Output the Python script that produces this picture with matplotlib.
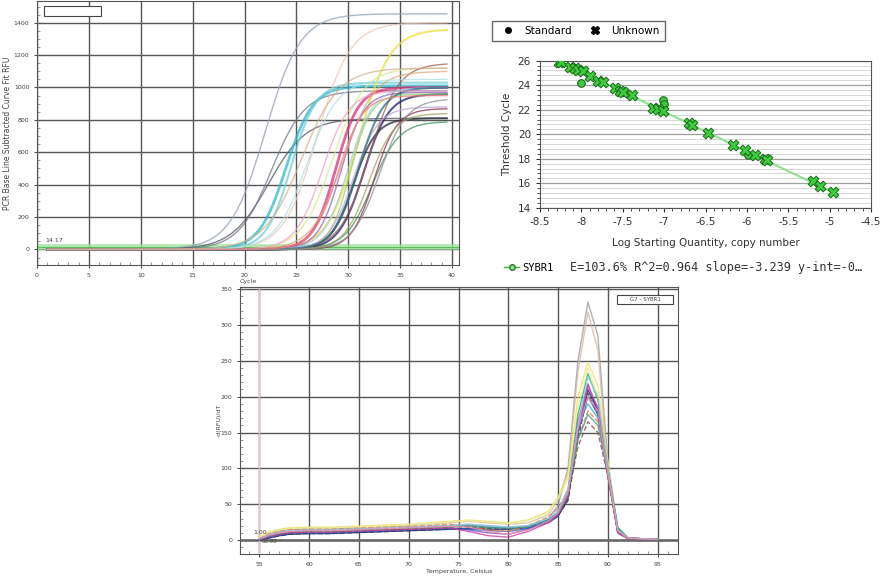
import numpy as np
import matplotlib
matplotlib.use("Agg")
import matplotlib.pyplot as plt
from matplotlib.lines import Line2D
from matplotlib.patches import Rectangle
from matplotlib.ticker import MultipleLocator

plt.rcParams['axes.unicode_minus'] = False

# ---------------- amplification (curve fit parameters) ----------------
amp_mid = [22.0, 22.3, 22.6, 24.0, 24.5, 27.0, 31.0, 28.5, 28.8, 29.3, 31.5, 30.5, 32.3,
           30.2, 32.0, 29.5, 30.5, 30.0, 32.5, 32.0, 31.0, 27.5, 33.0, 26.0, 29.0, 25.5]
amp_plateau = [1455, 810, 980, 1010, 1030, 1400, 1360, 1120, 1000, 970, 960, 810, 790,
               960, 1150, 1100, 880, 1000, 870, 840, 1000, 980, 930, 1050, 950, 1120]
amp_spread = [1.7, 1.8, 1.6, 1.3, 1.2, 1.6, 1.5, 1.5, 1.1, 1.1, 1.2, 1.1, 1.3,
              1.0, 1.4, 1.5, 1.2, 1.2, 1.1, 1.2, 1.2, 1.3, 1.3, 1.5, 1.2, 1.8]
amp_colors = ['#8fa0b4', '#555566', '#707888', '#30b8cc', '#70d0d8', '#e8c8b8', '#ece040',
              '#d8e890', '#d8307a', '#9060c0', '#202068', '#303040', '#409060', '#90d070',
              '#a06050', '#e0a878', '#c0a0d8', '#a0c8e8', '#8a3050', '#a0a060', '#307080',
              '#f0a0c0', '#909090', '#b0e0e0', '#f08080', '#d0b090']
amp_width = [1, 1, 1, 2, 1.5, 1, 1.5, 1, 2, 1, 1.5, 1.5, 1, 1, 1, 1, 1, 1, 1, 1, 1.5,
             1, 1, 1, 1, 1]
amp_threshold = 14.17

# ---------------- standard curve ----------------
unk_x = [-8.266, -8.25, -8.137, -8.077, -8.037, -7.976, -7.896, -7.795, -7.735, -7.594,
         -7.533, -7.493, -7.392, -7.130, -7.070, -7.010, -6.695, -6.667, -6.466, -6.164,
         -6.023, -5.902, -5.781, -5.761, -5.205, -5.116, -4.955]
unk_y = [25.92, 25.92, 25.45, 25.37, 25.26, 25.12, 24.77, 24.36, 24.30, 23.81,
         23.53, 23.48, 23.18, 22.16, 22.03, 21.89, 20.93, 20.79, 20.11, 19.15,
         18.74, 18.33, 17.97, 17.86, 16.14, 15.81, 15.32]
std_x = [-8.005, -7.010, -6.998, -5.990, -8.10, -7.50]
std_y = [24.22, 22.77, 22.49, 18.27, 25.30, 23.45]
fit_slope = -3.239
fit_intercept = -0.83
fit_range = [-8.27, -4.955]

# ---------------- melt curve ----------------
melt_temp = [55, 56, 57, 58, 60, 62, 64, 66, 68, 70, 72, 74, 76, 78, 80, 82, 84, 85, 86,
             87, 88, 89, 90, 91, 92, 93, 95]
melt_curves = [
    [2, 8, 12, 14, 15, 15, 16, 16, 17, 18, 19, 20, 22, 20, 18, 20, 30, 48, 100, 250, 332, 285, 110, 15, 3, 2, 1],
    [3, 10, 14, 16, 17, 17, 18, 18, 19, 20, 22, 24, 26, 24, 22, 24, 35, 55, 95, 235, 318, 265, 100, 12, 3, 2, 1],
    [4, 12, 15, 17, 18, 18, 19, 20, 21, 22, 24, 26, 28, 26, 24, 28, 40, 60, 90, 200, 248, 215, 110, 15, 3, 2, 1],
    [3, 11, 14, 16, 17, 17, 18, 19, 20, 21, 23, 25, 27, 25, 23, 27, 38, 58, 85, 185, 240, 200, 105, 14, 3, 2, 1],
    [1, 5, 8, 10, 11, 11, 12, 13, 14, 15, 16, 18, 20, 18, 16, 18, 28, 38, 70, 175, 232, 195, 100, 18, 3, 2, 1],
    [0, 4, 7, 9, 10, 10, 11, 12, 13, 14, 15, 16, 14, 10, 8, 15, 25, 36, 65, 165, 218, 180, 90, 12, 3, 2, 1],
    [0, 3, 6, 8, 9, 9, 10, 11, 12, 13, 14, 15, 16, 15, 15, 17, 24, 33, 58, 150, 210, 180, 95, 10, 3, 2, 1],
    [0, 3, 6, 8, 9, 9, 10, 11, 12, 13, 14, 15, 17, 16, 16, 18, 26, 34, 55, 140, 205, 175, 90, 10, 2, 2, 1],
    [1, 6, 9, 11, 12, 12, 13, 14, 15, 16, 17, 18, 19, 17, 16, 18, 27, 38, 66, 160, 190, 170, 95, 14, 3, 2, 1],
    [0, 4, 7, 9, 10, 10, 11, 12, 13, 14, 15, 16, 15, 13, 12, 16, 25, 35, 62, 150, 200, 175, 100, 15, 3, 2, 1],
    [0, 5, 8, 10, 11, 11, 12, 13, 14, 15, 16, 17, 12, 6, 4, 12, 24, 36, 62, 155, 215, 185, 90, 10, 2, 2, 1],
    [2, 9, 12, 14, 15, 15, 16, 17, 18, 19, 20, 22, 20, 14, 12, 20, 32, 44, 70, 140, 180, 165, 100, 14, 3, 2, 1],
    [1, 6, 9, 11, 12, 12, 13, 14, 15, 16, 17, 18, 19, 17, 16, 19, 28, 38, 62, 130, 165, 150, 90, 12, 3, 2, 1],
    [1, 6, 10, 12, 13, 13, 14, 15, 16, 17, 18, 19, 20, 18, 17, 19, 28, 38, 65, 140, 175, 160, 95, 16, 3, 2, 1],
    [2, 8, 11, 13, 14, 14, 15, 16, 17, 18, 19, 20, 22, 20, 18, 20, 30, 42, 70, 160, 228, 200, 100, 14, 3, 2, 1],
    [2, 7, 10, 12, 13, 13, 14, 15, 16, 17, 18, 19, 18, 12, 8, 14, 26, 38, 66, 155, 200, 180, 92, 12, 3, 2, 1],
]
melt_colors = ['#9a9aa8', '#d8b89a', '#eee060', '#e6f0a0', '#30b050', '#8050c0', '#1a2a80',
               '#303030', '#40a8d8', '#3060c0', '#d040a0', '#e08030', '#905030', '#40a0a0',
               '#90c8f0', '#f090b0']
melt_styles = ['-', '-', '-', '-', '-', '-', '-', '--', '-', '-', '-', '--', '--', '-', '-', '-']

fig = plt.figure(figsize=(8.83, 5.8), dpi=100)

# ===================== panel 1: amplification =====================
ax1 = fig.add_axes([37 / 883, 1 - 265 / 580, 422 / 883, 264 / 580])
cyc = np.arange(1, 39.6, 0.25)
ax1.axhline(amp_threshold, color='#9be39b', lw=4, alpha=0.8, zorder=2)
ax1.axhline(amp_threshold, color='#50b050', lw=0.6, zorder=2)
for c, p, s, col, w in zip(amp_mid, amp_plateau, amp_spread, amp_colors, amp_width):
    y = p / (1 + np.exp(-(cyc - c) / s))
    ax1.plot(cyc, y, color=col, lw=w, alpha=0.75, zorder=3)
ax1.set_xlim(0, 40.67)
ax1.set_ylim(-96, 1534)
ax1.set_xticks(range(0, 41, 5))
ax1.set_yticks(range(0, 1401, 200))
ax1.xaxis.set_minor_locator(MultipleLocator(1))
ax1.yaxis.set_minor_locator(MultipleLocator(50))
ax1.grid(True, which='major', color='#555555', lw=1.0)
ax1.tick_params(which='major', labelsize=4.5, labelcolor='#444444', length=2, color='#555555')
ax1.tick_params(which='minor', direction='in', length=2, color='#888888')
ax1.set_xlabel('Cycle', fontsize=4.5, color='#444444', labelpad=1)
ax1.set_ylabel('PCR Base Line Subtracted Curve Fit RFU', fontsize=5.5, color='#444444')
ax1.yaxis.set_label_coords(-25 / 422, 0.5)
for sp in ax1.spines.values():
    sp.set_color('#555555')
ax1.text(0.8, 45, '14.17', fontsize=4.5, color='#444444')
ax1.add_patch(Rectangle((7 / 422, 1 - 15 / 264), 57 / 422, 10 / 264, transform=ax1.transAxes,
                        fill=True, facecolor='white', edgecolor='#444444', lw=0.8, zorder=5))

# ===================== panel 2: standard curve =====================
ax2 = fig.add_axes([540 / 883, 1 - 207.7 / 580, 331 / 883, 147 / 580])
fx = np.array(fit_range)
ax2.plot(fx, fit_slope * fx + fit_intercept, color='#90e090', lw=1.5, zorder=2)
ax2.scatter(std_x, std_y, marker='o', s=30, color='#3ccc3c', edgecolor='#1f6a1f', lw=0.8, zorder=3)
ax2.scatter(unk_x, unk_y, marker='X', s=60, color='#3ccc3c', edgecolor='#1f6a1f', lw=0.7, zorder=4)
ax2.set_xlim(-8.5, -4.5)
ax2.set_ylim(14, 26)
ax2.set_xticks(np.arange(-8.5, -4.4, 0.5))
ax2.set_xticklabels(['-8.5', '-8', '-7.5', '-7', '-6.5', '-6', '-5.5', '-5', '-4.5'])
ax2.set_yticks(range(14, 27, 2))
ax2.xaxis.set_minor_locator(MultipleLocator(0.1))
ax2.yaxis.set_minor_locator(MultipleLocator(0.4))
ax2.grid(True, which='major', axis='y', color='#a0a0a0', lw=0.9)
ax2.grid(True, which='minor', axis='y', color='#d0d0d0', lw=0.6)
ax2.set_axisbelow(True)
ax2.tick_params(which='major', labelsize=7.5, labelcolor='#333333', length=3, color='#333333')
ax2.tick_params(which='minor', length=2, color='#333333')
ax2.set_xlabel('Log Starting Quantity, copy number', fontsize=7.5, color='#333333', labelpad=8)
ax2.set_ylabel('Threshold Cycle', fontsize=7.5, color='#333333', labelpad=4)
for sp in ax2.spines.values():
    sp.set_color('#555555')

fig.legend(handles=[Line2D([], [], ls='', marker='o', color='black', ms=4),
                    Line2D([], [], ls='', marker='X', color='black', ms=6)],
           labels=['Standard', 'Unknown'], ncol=2, loc='center',
           bbox_to_anchor=(578.5 / 883, 1 - 31 / 580), fontsize=7.5, frameon=True,
           fancybox=False, edgecolor='#444444', handletextpad=0.6, columnspacing=1.2,
           borderpad=0.5)
fig.legend(handles=[Line2D([], [], color='#40b040', marker='o', ms=4, mfc='#90e090',
                           mec='#2a7a2a', lw=1)],
           labels=['SYBR1'], loc='center left', bbox_to_anchor=(495 / 883, 1 - 268 / 580),
           frameon=False, handlelength=1.4, handletextpad=0.3,
           prop={'family': 'DejaVu Sans Mono', 'size': 7.5})
fig.text(570 / 883, 1 - 268 / 580, 'E=103.6% R^2=0.964 slope=-3.239 y-int=-0\u2026',
         fontsize=8.5, family='DejaVu Sans Mono', color='#333333', va='center')

# ===================== panel 3: melt curve =====================
ax3 = fig.add_axes([240 / 883, 1 - 554 / 580, 438 / 883, 267 / 580])
for vals, col, ls in zip(melt_curves, melt_colors, melt_styles):
    ax3.plot(melt_temp, vals, color=col, lw=1.0, ls=ls, alpha=0.8, zorder=3)
ax3.axhline(0, color='#666666', lw=1.8, zorder=2)
ax3.axvline(55, color='#e6c8c8', lw=1.0, zorder=2)
ax3.set_xlim(53.05, 97.05)
ax3.set_ylim(-19.5, 353)
ax3.set_xticks(range(55, 96, 5))
ax3.set_yticks(range(0, 351, 50))
ax3.xaxis.set_minor_locator(MultipleLocator(1))
ax3.yaxis.set_minor_locator(MultipleLocator(10))
ax3.grid(True, which='major', color='#555555', lw=1.0)
ax3.tick_params(which='major', labelsize=4.5, labelcolor='#444444', length=2, color='#555555')
ax3.tick_params(which='minor', direction='in', length=2, color='#888888')
ax3.set_xlabel('Temperature, Celsius', fontsize=4.5, color='#444444', labelpad=2)
ax3.set_ylabel('-d(RFU)/dT', fontsize=4.5, color='#444444')
ax3.yaxis.set_label_coords(-18 / 438, 0.5)
for sp in ax3.spines.values():
    sp.set_color('#555555')
ax3.text(54.4, 8, '1.00', fontsize=4.5, color='#444444')
ax3.text(55.2, -4, '55.00', fontsize=4, color='#444444')
ax3.add_patch(Rectangle((377 / 438, 1 - 17 / 267), 56 / 438, 9 / 267, transform=ax3.transAxes,
                        facecolor='white', edgecolor='#444444', lw=0.8, zorder=5))
ax3.text(405 / 438, 1 - 12.5 / 267, 'G7 - SYBR1', transform=ax3.transAxes, fontsize=4,
         color='#444444', ha='center', va='center', zorder=6)

fig.savefig('out.png', dpi=100)
